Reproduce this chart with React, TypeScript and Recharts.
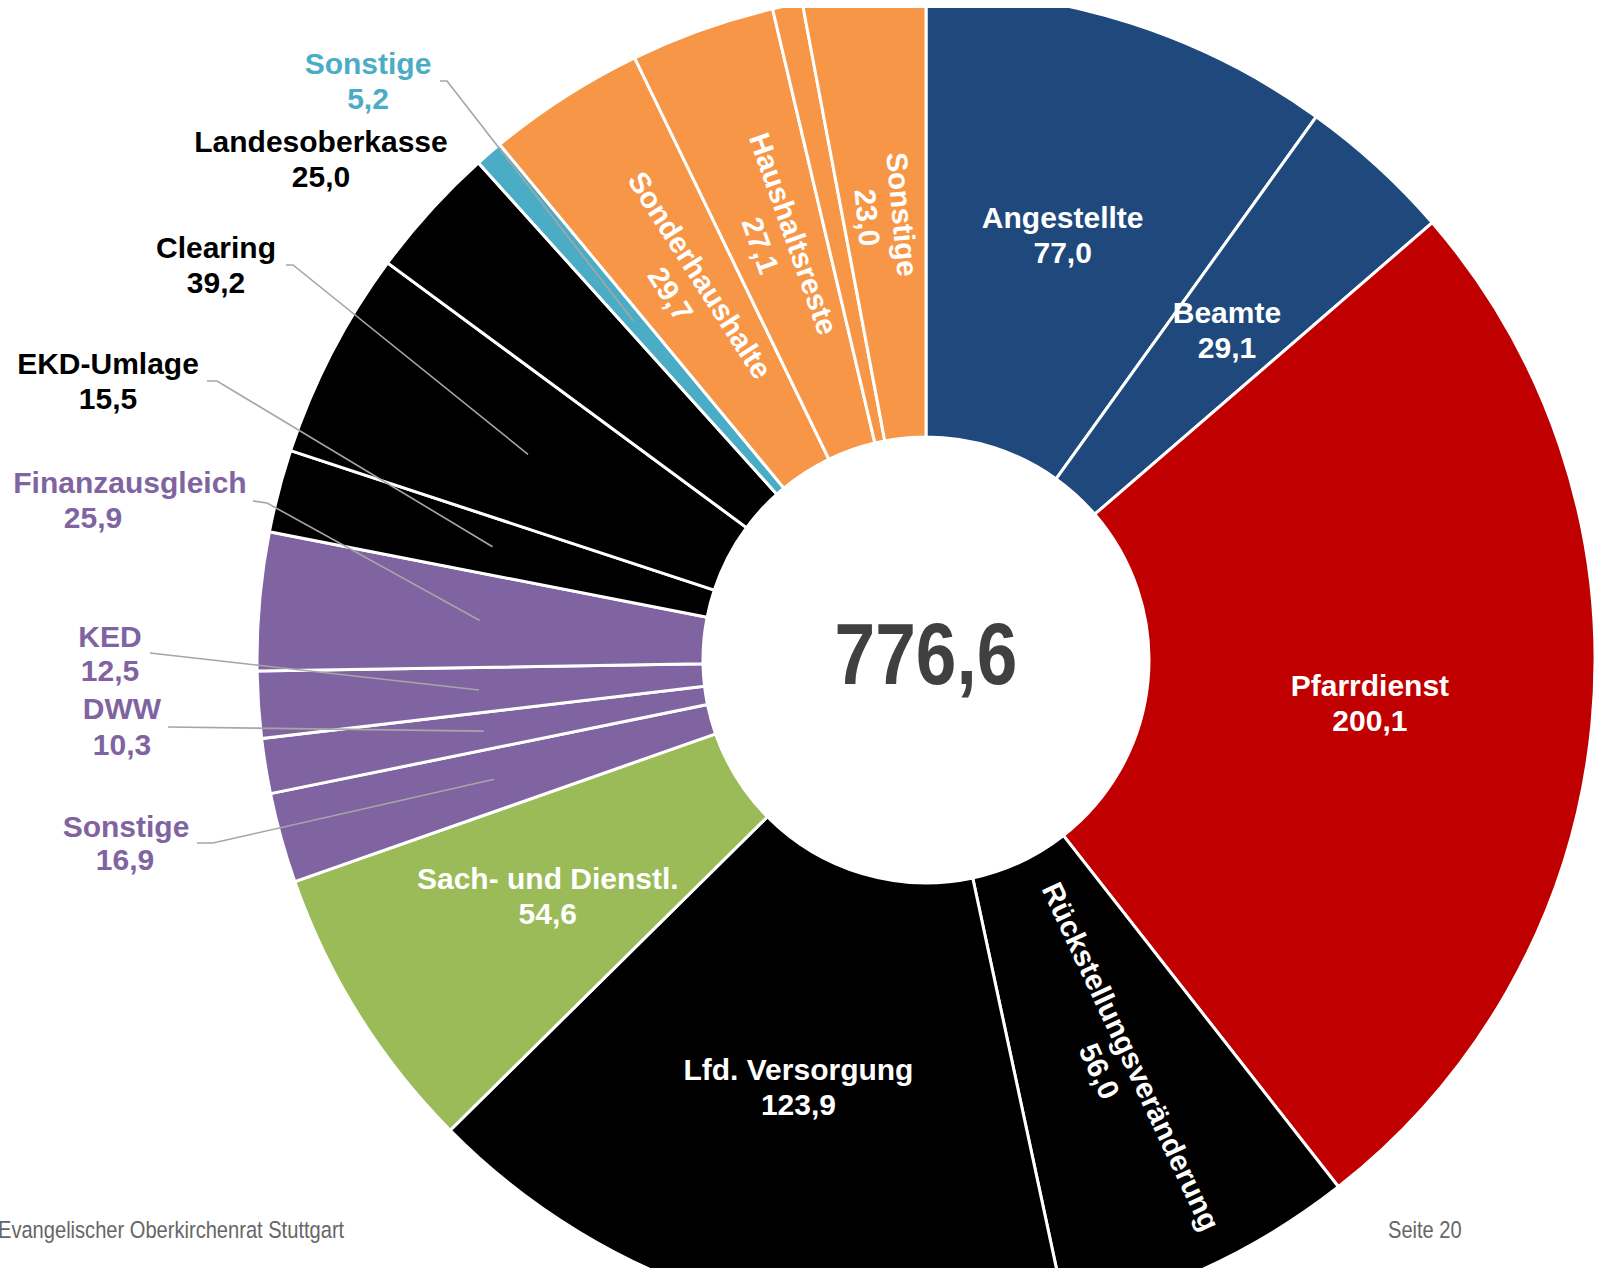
import { PieChart, Pie, Cell } from "recharts";

// Haushalt, Aufwand in Mio. EUR (Reihenfolge im Uhrzeigersinn ab 12 Uhr)
const categories = [
  "Angestellte",
  "Beamte",
  "Pfarrdienst",
  "Rückstellungsveränderung",
  "Lfd. Versorgung",
  "Sach- und Dienstl.",
  "Sonstige",
  "DWW",
  "KED",
  "Finanzausgleich",
  "EKD-Umlage",
  "Clearing",
  "Landesoberkasse",
  "Sonstige",
  "Sonderhaushalte",
  "Haushaltsreste",
  "",
  "Sonstige",
];

const values = [
  77.0, 29.1, 200.1, 56.0, 123.9, 54.6, 16.9, 10.3, 12.5, 25.9, 15.5, 39.2,
  25.0, 5.2, 29.7, 27.1, 5.6, 23.0,
];

const colors = [
  "#1F497D", "#1F497D", "#C00000", "#000000", "#000000", "#9BBB59",
  "#8064A2", "#8064A2", "#8064A2", "#8064A2", "#000000", "#000000",
  "#000000", "#4BACC6", "#F79646", "#F79646", "#F79646", "#F79646",
];

// how each slice gets its label: inside, rotated (out/inward), beside the ring, or not at all
const labelModes = [
  "in", "in", "in", "out", "in", "in", "side", "side", "side", "side",
  "side", "side", "side", "side", "inward", "inward", "none", "inward",
];

const FONT = '"Liberation Sans", Arial, sans-serif';
const RAD = Math.PI / 180;
const LINE = 35;
const SIZE = 30;

// labels placed beside the ring: baseline of each line, and start of leader line
const sideLabels: Record<
  number,
  { color: string; lines: number[][]; from?: number[][] }
> = {
  13: { color: "#4BACC6", lines: [[368, 74], [368, 109]], from: [[440, 81], [447, 81]] },
  12: { color: "#000000", lines: [[321, 152], [321, 187]] },
  11: { color: "#000000", lines: [[216, 258], [216, 293]], from: [[286, 265], [293, 265]] },
  10: { color: "#000000", lines: [[108, 374], [108, 409]], from: [[207, 381], [217, 381]] },
  9: { color: "#8064A2", lines: [[130, 493], [93, 528]], from: [[253, 501], [267, 503]] },
  8: { color: "#8064A2", lines: [[110, 647], [110, 681]], from: [[150, 653]] },
  7: { color: "#8064A2", lines: [[122, 719], [122, 755]], from: [[168, 727]] },
  6: { color: "#8064A2", lines: [[126, 837], [125, 870]], from: [[197, 843], [213, 843]] },
};

const fmt = (v: number) => v.toFixed(1).replace(".", ",");

const data = categories.map((name, i) => ({ name, value: values[i] }));
const total = values.reduce((a, b) => a + b, 0);

function renderLabel(props: any) {
  const { cx, cy, midAngle, innerRadius, outerRadius, index } = props;
  const mode = labelModes[index];
  const r = (innerRadius + outerRadius) / 2;
  const x = cx + r * Math.cos(-midAngle * RAD);
  const y = cy + r * Math.sin(-midAngle * RAD);
  const name = categories[index];
  const val = fmt(values[index]);

  if (mode === "in") {
    return (
      <text
        key={`l-${index}`}
        textAnchor="middle"
        fill="#ffffff"
        fontFamily={FONT}
        fontWeight="bold"
        fontSize={SIZE}
      >
        <tspan x={x} y={y - LINE / 2 + 10}>{name}</tspan>
        <tspan x={x} y={y + LINE / 2 + 10}>{val}</tspan>
      </text>
    );
  }

  if (mode === "out" || mode === "inward") {
    const rot = mode === "out" ? -midAngle : 180 - midAngle;
    return (
      <text
        key={`l-${index}`}
        transform={`translate(${x},${y}) rotate(${rot})`}
        textAnchor="middle"
        fill="#ffffff"
        fontFamily={FONT}
        fontWeight="bold"
        fontSize={SIZE - 0.5}
      >
        <tspan x={0} y={-LINE / 2 + 10}>{name}</tspan>
        <tspan x={0} y={LINE / 2 + 10}>{val}</tspan>
      </text>
    );
  }

  if (mode === "side") {
    const s = sideLabels[index];
    const re = r + 2;
    const ex = cx + re * Math.cos(-midAngle * RAD);
    const ey = cy + re * Math.sin(-midAngle * RAD);
    const pts = s.from
      ? [...s.from, [ex, ey]].map((p) => p.join(",")).join(" ")
      : "";
    return (
      <g key={`l-${index}`}>
        {s.from && (
          <polyline points={pts} fill="none" stroke="#A6A6A6" strokeWidth={1.6} />
        )}
        <text
          textAnchor="middle"
          fill={s.color}
          fontFamily={FONT}
          fontWeight="bold"
          fontSize={SIZE}
        >
          <tspan x={s.lines[0][0]} y={s.lines[0][1]}>{name}</tspan>
          <tspan x={s.lines[1][0]} y={s.lines[1][1]}>{val}</tspan>
        </text>
      </g>
    );
  }

  return <g key={`l-${index}`} />;
}

const footerStyle = {
  position: "absolute" as const,
  top: 1216,
  fontFamily: FONT,
  fontSize: 24.5,
  color: "#666666",
  whiteSpace: "nowrap" as const,
  lineHeight: "28px",
  transform: "scaleX(0.82)",
  transformOrigin: "left top",
};

export default function App() {
  return (
    <div
      style={{
        position: "fixed",
        left: 0,
        top: 0,
        width: 1604,
        height: 1268,
        overflow: "hidden",
        background: "#ffffff",
      }}
    >
      <PieChart
        width={1604}
        height={1268}
        margin={{ top: 0, right: 0, bottom: 0, left: 0 }}
      >
        <Pie
          data={data}
          dataKey="value"
          nameKey="name"
          cx={926}
          cy={660}
          innerRadius={223}
          outerRadius={669}
          startAngle={90}
          endAngle={-270}
          stroke="#ffffff"
          strokeWidth={3}
          labelLine={false}
          label={renderLabel}
          isAnimationActive={false}
        >
          {data.map((_, i) => (
            <Cell key={i} fill={colors[i]} />
          ))}
        </Pie>
        <text
          transform="translate(926,684) scale(0.84,1)"
          x={0}
          y={0}
          textAnchor="middle"
          fill="#404040"
          fontFamily={FONT}
          fontWeight="bold"
          fontSize={87}
        >
          {fmt(total)}
        </text>
      </PieChart>

      {/* the slide image is cropped at the top */}
      <div
        style={{
          position: "absolute",
          left: 0,
          top: 0,
          width: 1604,
          height: 8,
          background: "#ffffff",
        }}
      />

      <div style={{ ...footerStyle, left: -2 }}>
        Evangelischer Oberkirchenrat Stuttgart
      </div>
      <div style={{ ...footerStyle, left: 1388 }}>Seite 20</div>
    </div>
  );
}
